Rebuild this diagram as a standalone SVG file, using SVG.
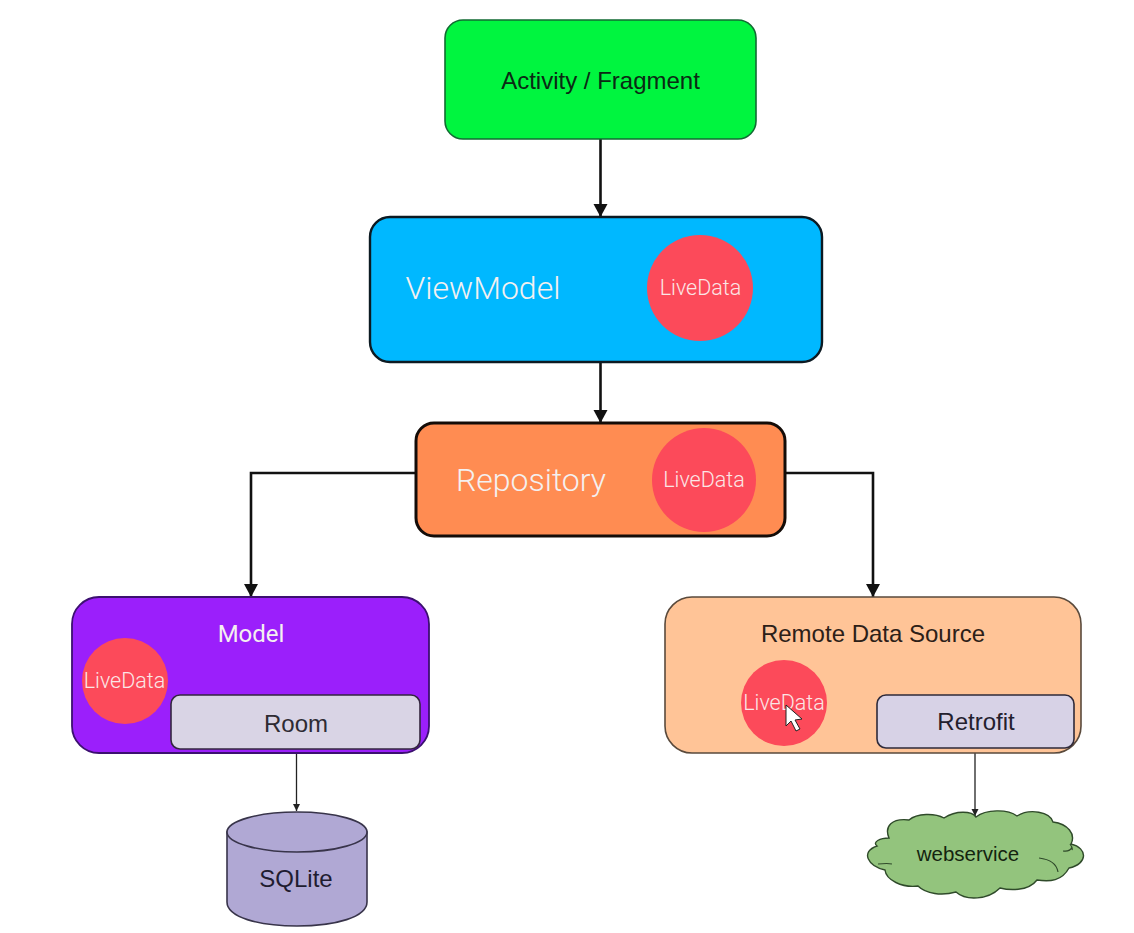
<svg xmlns="http://www.w3.org/2000/svg" width="1134" height="933" viewBox="0 0 1134 933">
<style>
.h{font-family:"Liberation Sans",Arial,sans-serif;text-anchor:middle}
.r{font-family:Roboto,"Liberation Sans",sans-serif;font-weight:300;text-anchor:middle;fill:#f4f0f0}
.c{fill:#fc4a5a}
.ld{font-size:21.5px;fill:#fbe6e6}
.e{fill:none;stroke:#111;stroke-width:2.6}
.t{fill:none;stroke:#222;stroke-width:1.3}
</style>
<defs>
<marker id="a" markerUnits="userSpaceOnUse" markerWidth="14" markerHeight="16" refX="13" refY="7" orient="auto"><path d="M0 0L13 7L0 14Z" fill="#111"/></marker>
<marker id="b" markerUnits="userSpaceOnUse" markerWidth="8" markerHeight="8" refX="7" refY="3.5" orient="auto"><path d="M0 0L7 3.5L0 7Z" fill="#222"/></marker>
</defs>
<rect width="1134" height="933" fill="#fff"/>
<g id="connectors">
<path class="e" d="M600.500 139V217" marker-end="url(#a)"/>
<path class="e" d="M600.500 361V423" marker-end="url(#a)"/>
<path class="e" d="M417 473H251V597" marker-end="url(#a)"/>
<path class="e" d="M785 473H873V597" marker-end="url(#a)"/>
<path class="t" d="M296.500 749V811" marker-end="url(#b)"/>
<path class="t" d="M975 748V816" marker-end="url(#b)"/>
</g>
<g id="activity-fragment">
<rect x="445" y="20" width="311" height="119" rx="18" fill="#00f53f" stroke="#126b33" stroke-width="1.6"/>
<text class="h" x="600.500" y="89" font-size="24" fill="#0b2a14">Activity / Fragment</text>
</g>
<g id="viewmodel">
<rect x="370" y="217" width="452" height="145" rx="20" fill="#00b8ff" stroke="#0c1a22" stroke-width="2.4"/>
<text class="r" x="483" y="299" font-size="32" fill="#d4f4ff">ViewModel</text>
<circle class="c" cx="700" cy="288" r="53"/>
<text class="r ld" x="700.500" y="295" font-size="23">LiveData</text>
</g>
<g id="repository">
<rect x="416" y="423" width="369" height="113" rx="18" fill="#ff8c52" stroke="#140c08" stroke-width="3"/>
<text class="r" x="531" y="491" font-size="32" fill="#ffe6d0">Repository</text>
<circle class="c" cx="704" cy="480" r="52"/>
<text class="r ld" x="704" y="487" font-size="23">LiveData</text>
</g>
<g id="model">
<rect x="72" y="597" width="357" height="156" rx="27" fill="#9b1ffb" stroke="#3c1070" stroke-width="1.8"/>
<text class="r" x="251" y="642" font-size="24" fill="#f4d4ff" style="font-weight:400">Model</text>
<circle class="c" cx="125" cy="681" r="43"/>
<text class="r ld" x="124.500" y="688">LiveData</text>
</g>
<g id="room">
<rect x="171" y="695" width="249" height="54" rx="9" fill="#d9d4e5" stroke="#33263f" stroke-width="1.6"/>
<text class="h" x="296" y="732" font-size="24" fill="#2e2b33">Room</text>
</g>
<g id="sqlite">
<path d="M227 832V902C227 917 258 926 297 926S367 917 367 902V832Z" fill="#b0a8d4" stroke="#38344a" stroke-width="1.6"/>
<ellipse cx="297" cy="832" rx="70" ry="20" fill="#b0a8d4" stroke="#38344a" stroke-width="1.6"/>
<text class="h" x="296" y="887" font-size="24" fill="#1f1c30">SQLite</text>
</g>
<g id="remote-data-source">
<rect x="665" y="597" width="416" height="156" rx="27" fill="#ffc497" stroke="#5a4a3c" stroke-width="1.6"/>
<text class="h" x="873" y="642" font-size="24" fill="#2c2018">Remote Data Source</text>
<circle class="c" cx="784" cy="703" r="43"/>
<text class="r ld" x="784" y="710">LiveData</text>
<path d="M786 705V726L791 721L796 731L800 729L795 720L802 719Z" fill="#fff" stroke="#222" stroke-width="1"/>
</g>
<g id="retrofit">
<rect x="877" y="695" width="197" height="53" rx="9" fill="#d7d2e6" stroke="#2e2a3a" stroke-width="1.6"/>
<text class="h" x="976" y="730" font-size="24" fill="#23202e">Retrofit</text>
</g>
<g id="webservice">
<path d="M889 838C884 826 892 818 909 820C917 813 935 813 944 818C956 810 972 811 976 817C986 809 1008 809 1017 816C1030 808 1050 812 1053 822C1068 824 1076 834 1071 844C1088 848 1088 864 1069 868C1062 881 1050 882 1037 880C1028 892 1008 890 1000 888C988 900 966 901 956 892C942 896 926 894 918 886C902 888 886 880 885 870C868 866 860 852 877 846C872 842 880 838 889 838Z" fill="#93c47d" stroke="#2f4a2a" stroke-width="1.4"/>
<path d="M878 864Q888 863 892 864M1039 858Q1056 860 1058 872M1070 844Q1073 848 1072 850M1063 851Q1070 852 1072 847" fill="none" stroke="#2f4a2a" stroke-width="1.2"/>
<text class="h" x="968" y="861" font-size="20.500" fill="#14240f">webservice</text>
</g>
</svg>
